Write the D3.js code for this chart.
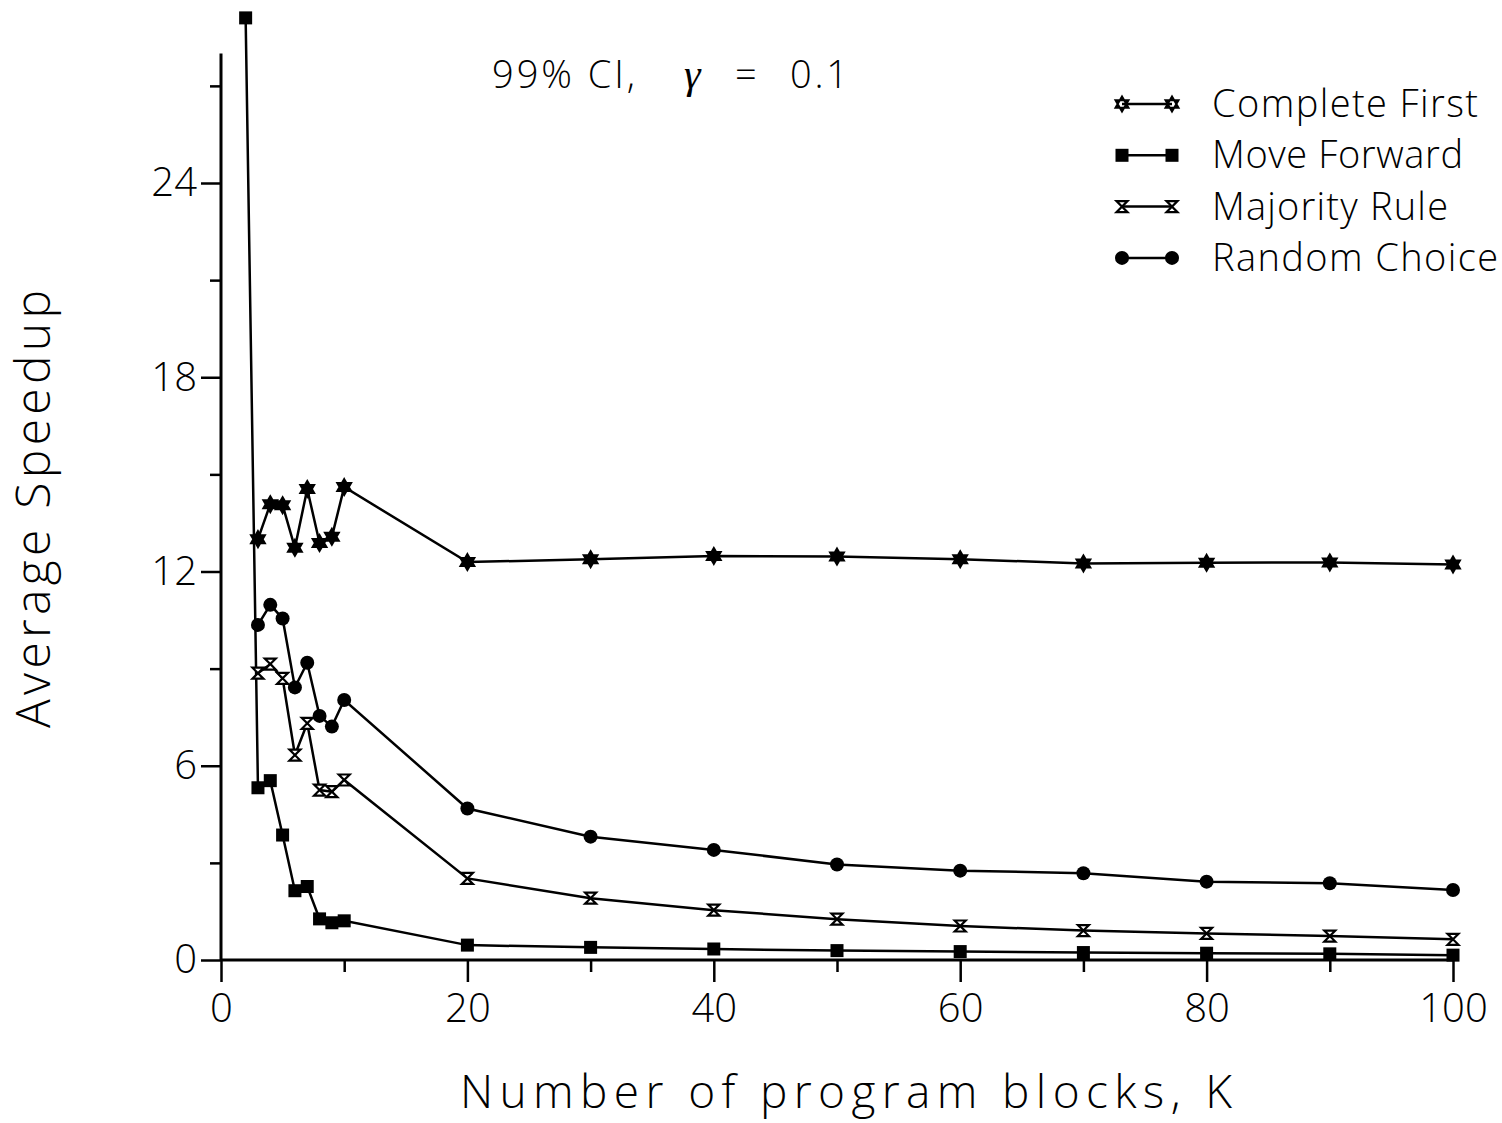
<!DOCTYPE html>
<html>
<head>
<meta charset="utf-8">
<script src="https://cdn.jsdelivr.net/npm/d3@7"></script>
<style>
  body { margin: 0; background: #fff; }
  svg text { font-family: "Open Sans", "DejaVu Sans", sans-serif; font-weight: 300; fill: #000; }
</style>
</head>
<body>
<svg id="chart" width="1502" height="1123"></svg>
<script>
// K values and average speedup per policy
const blocksK = [3, 4, 5, 6, 7, 8, 9, 10, 20, 30, 40, 50, 60, 70, 80, 90, 100];
const blocksMoveForward = [2, 3, 4, 5, 6, 7, 8, 9, 10, 20, 30, 40, 50, 60, 70, 80, 90, 100];
const completeFirst = [13.0, 14.08, 14.05, 12.73, 14.55, 12.88, 13.07, 14.61, 12.29, 12.38, 12.48, 12.46, 12.38, 12.25, 12.27, 12.28, 12.22];
const moveForward = [29.1, 5.32, 5.54, 3.86, 2.14, 2.27, 1.27, 1.15, 1.21, 0.46, 0.39, 0.34, 0.29, 0.26, 0.23, 0.21, 0.19, 0.15];
const majorityRule = [8.86, 9.14, 8.70, 6.33, 7.31, 5.25, 5.20, 5.56, 2.52, 1.91, 1.54, 1.26, 1.05, 0.91, 0.82, 0.74, 0.64];
const randomChoice = [10.35, 10.97, 10.55, 8.42, 9.18, 7.54, 7.21, 8.03, 4.68, 3.81, 3.40, 2.95, 2.76, 2.68, 2.42, 2.37, 2.16];

const seriesNames = ["Complete First", "Move Forward", "Majority Rule", "Random Choice"];
const xTicksMajor = [0, 20, 40, 60, 80, 100];
const xTicksMinor = [10, 30, 50, 70, 90];
const yTicksMajor = [0, 6, 12, 18, 24];
const yTicksMinor = [3, 9, 15, 21, 27];

function drawChart() {
    const svg = d3.select("#chart");
    const x = d3.scaleLinear().domain([0, 100]).range([221, 1453]);
    const y = d3.scaleLinear().domain([0, 28]).range([960, 53.5]);

    // marker shapes
    const hexagram = r => {
        const a = r * 0.866, b = r / 2;
        return `M0,${-r}L${a},${b}L${-a},${b}ZM0,${r}L${-a},${-b}L${a},${-b}Z`;
    };
    const hexagramOpen = r => {
        const a = r * 0.866, b = r / 2;
        return `M0,${-r}L${a},${b}L${-a},${b}ZM0,${r}L${a},${-b}L${-a},${-b}Z`;
    };
    const hourglass = r => `M${-r},${-r}H${r}L${-r},${r}H${r}Z`;
    const markers = {
        "Complete First": g => g.append("path").attr("d", hexagram(7.5))
            .attr("fill", "#000").attr("stroke", "#000").attr("stroke-width", 2.5),
        "Move Forward": g => g.append("rect").attr("x", -6.5).attr("y", -6.5)
            .attr("width", 13).attr("height", 13).attr("fill", "#000"),
        "Majority Rule": g => g.append("path").attr("d", hourglass(5.5))
            .attr("fill", "#fff").attr("stroke", "#000").attr("stroke-width", 2.2),
        "Random Choice": g => g.append("circle").attr("r", 7).attr("fill", "#000")
    };

    const series = [
        { name: "Complete First", xs: blocksK, ys: completeFirst },
        { name: "Move Forward", xs: blocksMoveForward, ys: moveForward },
        { name: "Majority Rule", xs: blocksK, ys: majorityRule },
        { name: "Random Choice", xs: blocksK, ys: randomChoice }
    ];

    // axes
    const axisStyle = g => {
        g.select(".domain").remove();
        g.selectAll("line").attr("stroke", "#000").attr("stroke-width", 2.5);
        g.selectAll("text").style("font-size", "40px").style("font-weight", 300)
            .style("font-family", '"Open Sans", "DejaVu Sans", sans-serif');
    };

    svg.append("g").attr("transform", "translate(0,960)")
        .call(d3.axisBottom(x).tickValues(xTicksMinor).tickSize(12).tickFormat(""))
        .call(axisStyle);
    svg.append("g").attr("transform", "translate(0,960)")
        .call(d3.axisBottom(x).tickValues(xTicksMajor).tickSize(22).tickPadding(12))
        .call(axisStyle);
    svg.append("g").attr("transform", "translate(221,0)")
        .call(d3.axisLeft(y).tickValues(yTicksMinor).tickSize(11).tickFormat(""))
        .call(axisStyle);
    svg.append("g").attr("transform", "translate(221,0)")
        .call(d3.axisLeft(y).tickValues(yTicksMajor).tickSize(20).tickPadding(4))
        .call(axisStyle);

    svg.append("line").attr("x1", 221).attr("x2", 1453).attr("y1", 960).attr("y2", 960)
        .attr("stroke", "#000").attr("stroke-width", 3);
    svg.append("line").attr("x1", 221).attr("x2", 221).attr("y1", y(0)).attr("y2", y(28))
        .attr("stroke", "#000").attr("stroke-width", 3);

    // lines and markers
    const line = d3.line().x(d => x(d[0])).y(d => y(d[1]));
    series.forEach(s => {
        const pts = s.xs.map((k, i) => [k, s.ys[i]]);
        svg.append("path").datum(pts).attr("d", line)
            .attr("fill", "none").attr("stroke", "#000").attr("stroke-width", 2.5);
        svg.append("g").selectAll("g").data(pts).enter().append("g")
            .attr("transform", d => `translate(${x(d[0])},${y(d[1])})`)
            .each(function () { markers[s.name](d3.select(this)); });
    });

    // legend
    const legendWidths = [266, 251, 236, 286];
    const legend = svg.selectAll(".legend").data(seriesNames).enter().append("g")
        .attr("class", "legend")
        .attr("transform", (d, i) => `translate(1122,${104 + i * 51.3})`);
    legend.append("line").attr("x1", 0).attr("x2", 50).attr("y1", 0).attr("y2", 0)
        .attr("stroke", "#000").attr("stroke-width", 2.5);
    legend.each(function (d) {
        const g = d3.select(this);
        markers[d](g.append("g"));
        markers[d](g.append("g").attr("transform", "translate(50,0)"));
    });
    // the legend shows the star as an outline
    legend.filter(d => d === "Complete First").selectAll("g path")
        .attr("d", hexagramOpen(7.5)).attr("stroke-width", 2);
    legend.append("text").attr("x", 90).attr("y", 13)
        .style("font-size", "38px")
        .attr("textLength", (d, i) => legendWidths[i]).attr("lengthAdjust", "spacing")
        .text(d => d);

    // annotation
    const note = svg.append("text").attr("y", 88).style("font-size", "38px");
    note.append("tspan").attr("x", 492).attr("textLength", 143).attr("lengthAdjust", "spacing")
        .text("99% CI,");
    note.append("tspan").attr("x", 684)
        .style("font-family", '"Liberation Serif", "DejaVu Serif", serif')
        .style("font-style", "italic").style("font-weight", 400)
        .style("font-size", "42px").text("\u03b3");
    note.append("tspan").attr("x", 735).text("=");
    note.append("tspan").attr("x", 790).attr("textLength", 58).attr("lengthAdjust", "spacing")
        .text("0.1");

    // axis titles
    svg.append("text").attr("x", 846).attr("y", 1108)
        .attr("text-anchor", "middle").style("font-size", "46px")
        .attr("textLength", 772).attr("lengthAdjust", "spacing")
        .text("Number of program blocks, K");
    svg.append("text").attr("transform", "translate(50,509) rotate(-90)")
        .attr("text-anchor", "middle").style("font-size", "48px")
        .attr("textLength", 438).attr("lengthAdjust", "spacing")
        .text("Average Speedup");
}

window.addEventListener("load", drawChart);
</script>
</body>
</html>
